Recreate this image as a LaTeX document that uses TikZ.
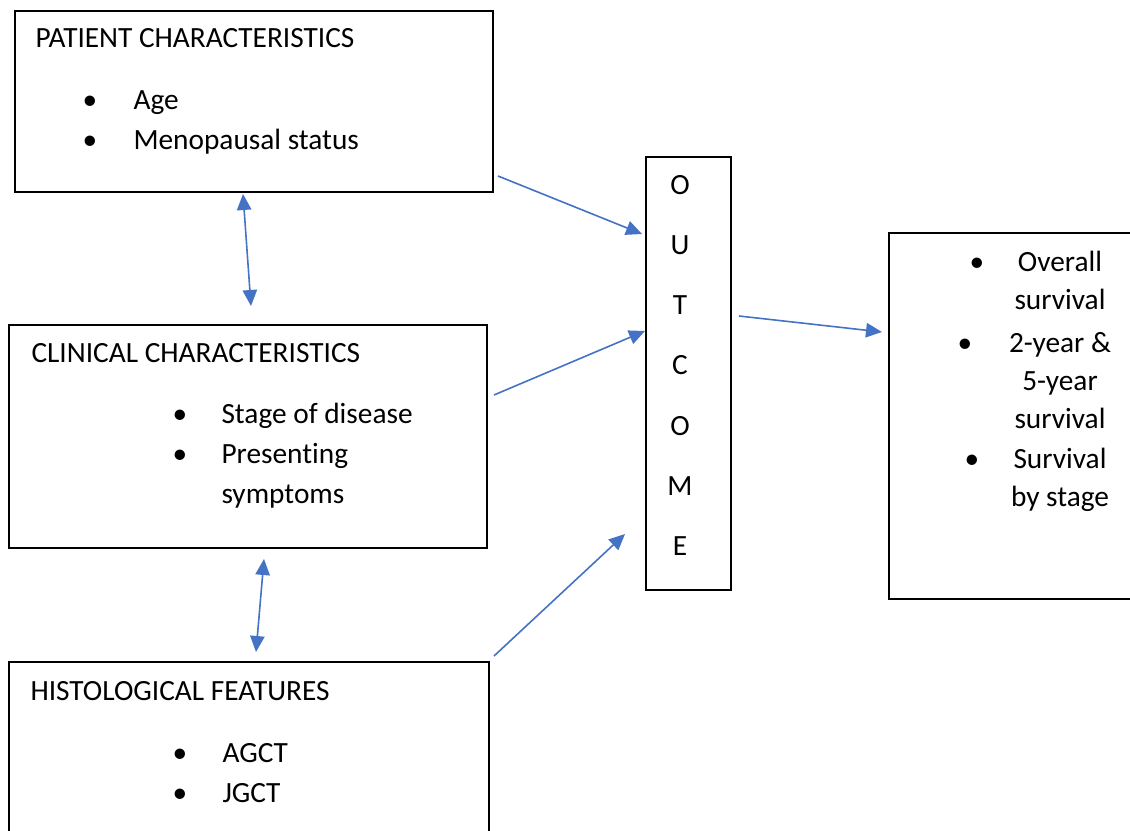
\documentclass[tikz,border=0pt]{standalone}
\usepackage{fontspec}
\setmainfont{Carlito}[Ligatures=NoCommon]
\usetikzlibrary{arrows.meta,fit}
\definecolor{wordblue}{HTML}{4472C4}

\begin{document}
\begin{tikzpicture}
        [x=0.375pt, y=-0.375pt,
         box/.style={draw, line width=0.75pt, inner sep=0pt},
         txt/.style={anchor=base west, inner sep=0pt, font=\fontsize{11}{13}\selectfont},
         ctr/.style={anchor=base, inner sep=0pt, font=\fontsize{11}{13}\selectfont},
         link/.style={wordblue, line width=0.6pt, -{Triangle[length=6pt,width=5.4pt]}},
         both/.style={link, {Triangle[length=6pt,width=5.4pt]}-{Triangle[length=6pt,width=5.4pt]}}]
        
        \useasboundingbox (0,0) rectangle (1130,831);
        \clip (0,0) rectangle (1130,831);
        
        % boxes
        \node [box, fit={(15,11) (493,192)}]   (pat) {};
        \node [box, fit={(9,325) (487,548)}]   (cli) {};
        \node [box, fit={(9,662) (489,850)}]   (his) {};
        \node [box, fit={(646,157) (731,590)}] (out) {};
        \node [box, fit={(889,233) (1145,599)}] (res) {};
        
        % patient
        \node [txt] (patT) at (35,48) {PATIENT CHARACTERISTICS};
        \node [ctr] (patB1) at (90,110) {\textbullet};
        \node [txt] (patA)  at (133,110) {Age};
        \node [ctr] (patB2) at (90,150) {\textbullet};
        \node [txt] (patM)  at (133,150) {Menopausal status};
        
        % clinical
        \node [txt] (cliT) at (31,362) {CLINICAL CHARACTERISTICS};
        \node [ctr] (cliB1) at (180,424) {\textbullet};
        \node [txt] (cliS)  at (221,424) {Stage of disease};
        \node [ctr] (cliB2) at (180,464) {\textbullet};
        \node [txt] (cliP)  at (221,464) {Presenting};
        \node [txt] (cliY)  at (221,503) {symptoms};
        
        % histological
        \node [txt] (hisT) at (30,700) {HISTOLOGICAL FEATURES};
        \node [ctr] (hisB1) at (180,762) {\textbullet};
        \node [txt] (hisA)  at (222,762) {AGCT};
        \node [ctr] (hisB2) at (180,802) {\textbullet};
        \node [txt] (hisJ)  at (222,802) {JGCT};
        
        % outcome
        \foreach \ch [count=\i] in {O,U,T,C,O,M,E}
            \node [ctr] (ltr\i) at (680,{135+60*\i}) {\ch};
        
        % results
        \node [ctr] (resB1) at (977,272) {\textbullet};
        \node [ctr] (res1)  at (1060,272) {Overall};
        \node [ctr] (res2)  at (1060,309) {survival};
        \node [ctr] (resB2) at (965,352) {\textbullet};
        \node [ctr] (res3)  at (1060,352) {2-year \&};
        \node [ctr] (res4)  at (1060,391) {5-year};
        \node [ctr] (res5)  at (1060,429) {survival};
        \node [ctr] (resB3) at (972,469) {\textbullet};
        \node [ctr] (res6)  at (1060,469) {Survival};
        \node [ctr] (res7)  at (1060,506) {by stage};
        
        % connectors
        \draw [link] ([shift={(4,-17)}]pat.south east) -- ([shift={(-3,78)}]out.north west);
        \draw [link] ([shift={(6,71)}]cli.north east) -- ([shift={(0,175)}]out.north west);
        \draw [link] ([shift={(4,-5)}]his.north east) -- ([shift={(-20,-57)}]out.south west);
        \draw [link] ([shift={(7,160)}]out.north east) -- ([shift={(-6,100)}]res.north west);
        
        \draw [both] ([shift={(229,1)}]pat.south west) -- ([shift={(243,-18)}]cli.north west);
        \draw [both] ([shift={(256,10)}]cli.south west) -- ([shift={(248,-9)}]his.north west);
        
\end{tikzpicture}
\end{document}
